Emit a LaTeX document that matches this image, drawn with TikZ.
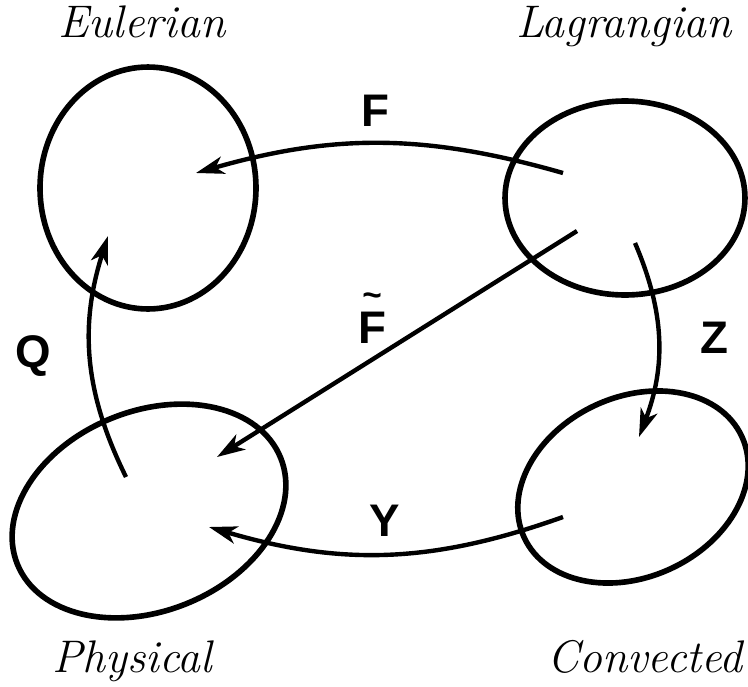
\documentclass[tikz,border=0pt]{standalone}
\usepackage{fontspec}
\usetikzlibrary{arrows.meta,shapes.geometric}
\newfontfamily\mapfont{Liberation Sans}

\begin{document}
\begin{tikzpicture}[x=0.02cm,y=-0.02cm,
  region/.style={draw,ellipse,line width=3.2pt,inner sep=0pt},
  map/.style={line width=2.5pt,-{Stealth[length=16pt,width=10pt,inset=4.5pt]}},
  place/.style={font=\fontsize{26}{30}\selectfont\itshape,anchor=base,inner sep=0pt},
  maplabel/.style={font=\fontsize{26}{30}\selectfont\mapfont\bfseries}]
\useasboundingbox (0,0) rectangle (748,687);
% the four descriptions
\node[region,minimum width=4.32cm,minimum height=4.84cm] (eul) at (148,188) {};
\node[region,minimum width=4.8cm,minimum height=3.88cm] (lag) at (625,198) {};
\node[region,minimum width=5.68cm,minimum height=4cm,rotate=22] (phy) at (149,511) {};
\node[region,minimum width=4.8cm,minimum height=3.6cm,rotate=25] (con) at (633,487) {};
\node[place] (eulname) at (142,37) {Eulerian};
\node[place] (lagname) at (624,37) {Lagrangian};
\node[place] (phyname) at (132,672) {Physical};
\node[place] (conname) at (645,672) {Convected};
% ends of the maps
\coordinate (fA) at (563,173);
\coordinate (fB) at (196,173);
\coordinate (ftA) at (577,231);
\coordinate (ftB) at (217,457);
\coordinate (zA) at (635,243);
\coordinate (zB) at (639,437);
\coordinate (yA) at (563,517);
\coordinate (yB) at (209,527);
\coordinate (qA) at (126,477);
\coordinate (qB) at (108,236);
\draw[map] (fA) to[bend right=16] (fB);
\draw[map] (ftA) -- (ftB);
\draw[map] (zA) to[bend left=22] (zB);
\draw[map] (yA) to[bend left=18] (yB);
\draw[map] (qA) to[bend left=22] (qB);
\node[maplabel] (flabel) at (375,111) {F};
\node[maplabel,anchor=base] (ftlabel) at (372,343)
  {\rlap{\hspace{2.4pt}\raisebox{21pt}{\fontsize{19}{19}\selectfont\textasciitilde}}F};
\node[maplabel] (zlabel) at (714,338) {Z};
\node[maplabel] (ylabel) at (385,521) {Y};
\node[maplabel] (qlabel) at (33,356) {Q};
\end{tikzpicture}
\end{document}
